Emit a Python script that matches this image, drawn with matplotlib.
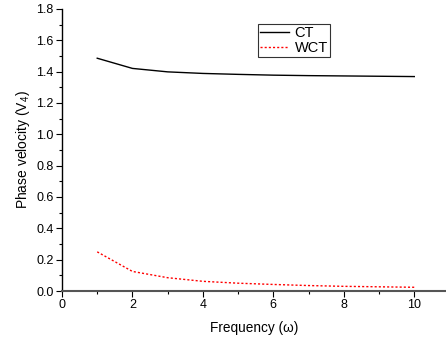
import matplotlib
matplotlib.use("Agg")
import matplotlib.pyplot as plt
from matplotlib.ticker import MultipleLocator

plt.rcParams['font.family'] = ['Liberation Sans', 'DejaVu Sans']
plt.rcParams['mathtext.fontset'] = 'custom'
plt.rcParams['mathtext.rm'] = 'Liberation Sans'

freq = [1, 2, 3, 4, 5, 6, 7, 8, 9, 10]
ct = [1.485, 1.42, 1.398, 1.388, 1.382, 1.377, 1.374, 1.372, 1.370, 1.368]
wct = [0.25, 0.125, 0.085, 0.062, 0.050, 0.042, 0.035, 0.030, 0.027, 0.024]

fig = plt.figure(figsize=(4.46, 3.40), dpi=100)
ax = fig.add_axes([0.139, 0.144, 0.861, 0.830])

ax.plot(freq, ct, color='black', lw=1.0, label='CT')
ax.plot(freq, wct, color='red', lw=1.0, ls=(0, (1.5, 1.5)), label='WCT')

ax.set_xlim(0, 10.9)
ax.set_ylim(0, 1.8)
ax.xaxis.set_major_locator(MultipleLocator(2))
ax.xaxis.set_minor_locator(MultipleLocator(1))
ax.yaxis.set_major_locator(MultipleLocator(0.2))
ax.yaxis.set_minor_locator(MultipleLocator(0.1))
ax.yaxis.set_major_formatter(plt.FormatStrFormatter('%.1f'))

for s in ['top', 'right']:
    ax.spines[s].set_visible(False)
ax.spines['left'].set_linewidth(1.0)
ax.spines['bottom'].set_linewidth(1.5)
ax.spines['bottom'].set_color('#555555')

ax.tick_params(which='major', direction='out', length=4, width=0.8, labelsize=9, pad=2)
ax.tick_params(which='minor', direction='out', length=2, width=0.8)

ax.set_xlabel('Frequency (ω)', fontsize=9.8, labelpad=7)
ax.set_ylabel('Phase velocity (V$_4$)', fontsize=10, labelpad=3)

leg = ax.legend(loc='upper left', bbox_to_anchor=(258/446, 1 - 24/340),
                bbox_transform=fig.transFigure, fontsize=10.5, frameon=True,
                fancybox=False, handlelength=2.0, handletextpad=0.35,
                borderpad=0.15, labelspacing=0.05, borderaxespad=0)
leg.get_frame().set_edgecolor('black')
leg.get_frame().set_linewidth(0.8)

fig.savefig('out.png', dpi=100)
